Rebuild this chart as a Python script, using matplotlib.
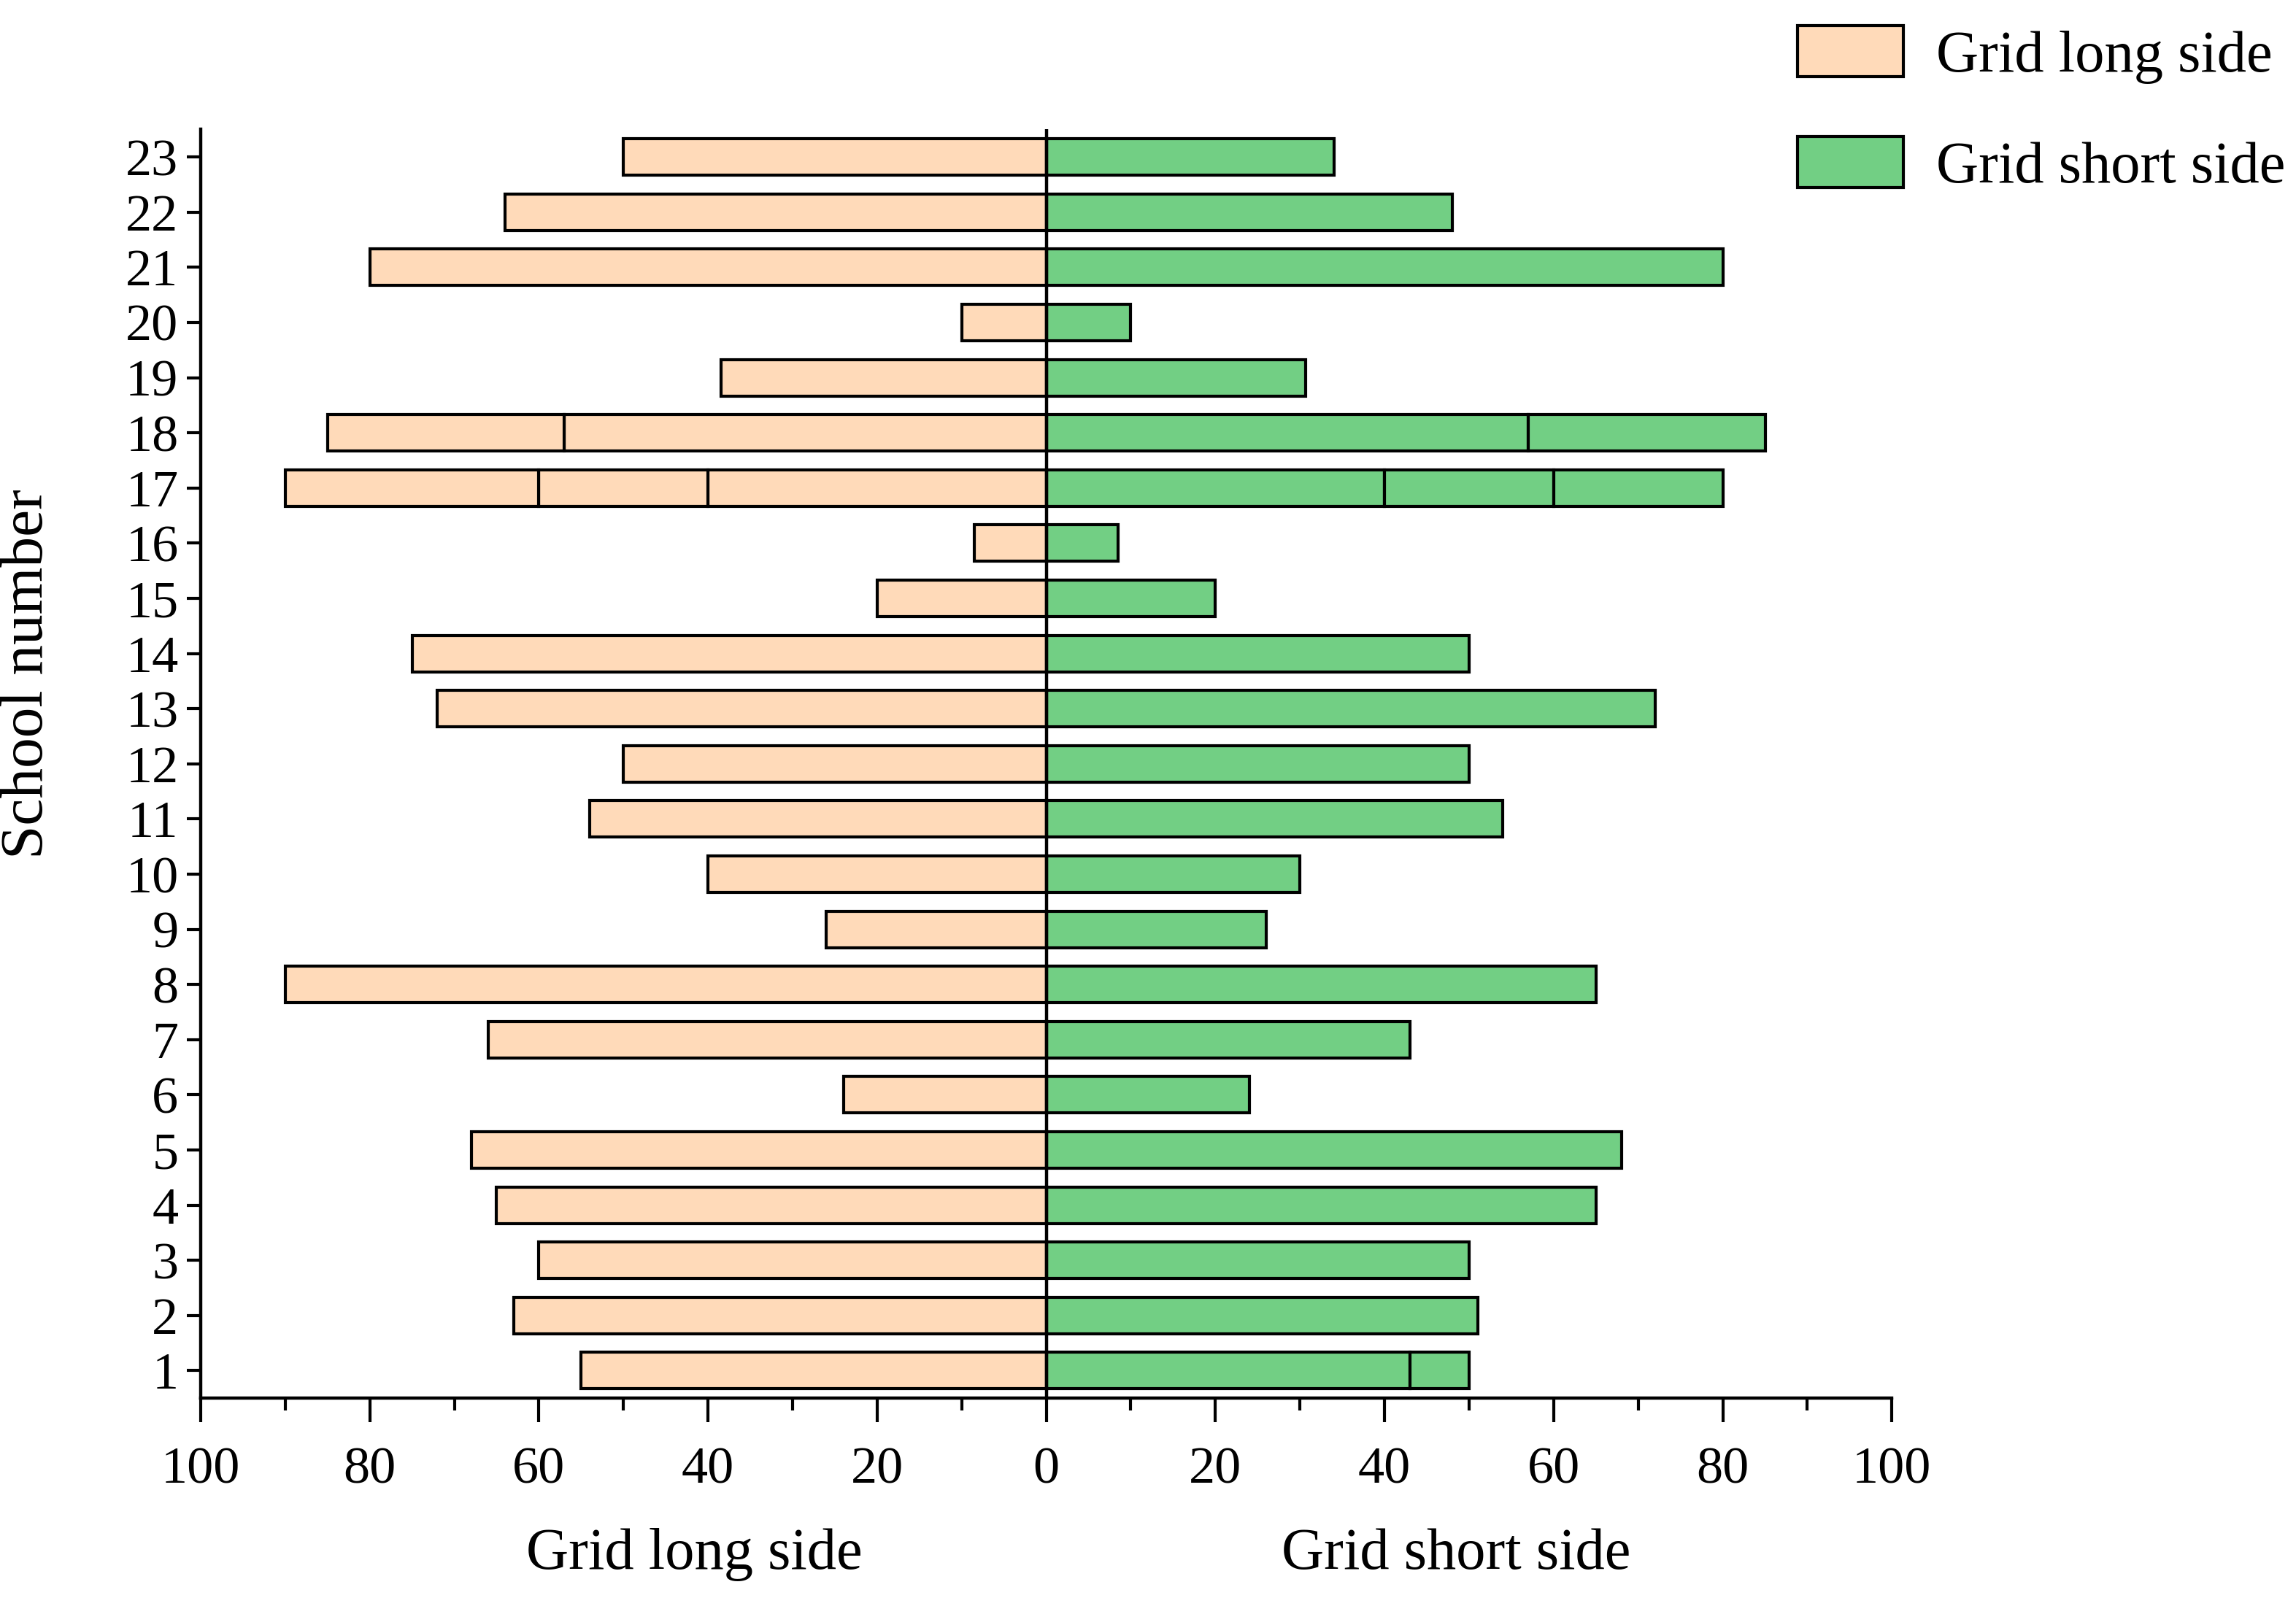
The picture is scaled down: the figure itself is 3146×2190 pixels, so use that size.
import numpy as np
import matplotlib.pyplot as plt
from matplotlib.patches import Patch

# dati (scuole 1..23)
schools = list(range(1, 24))
# lato lungo: segmenti dal centro verso l'esterno
long_seg1 = [55, 63, 60, 65, 68, 24, 66, 90, 26, 40, 54, 50, 72, 75, 20, 8.5, 40, 57, 38.5, 10, 80, 64, 50]
long_seg2 = [0, 0, 0, 0, 0, 0, 0, 0, 0, 0, 0, 0, 0, 0, 0, 0, 20, 28, 0, 0, 0, 0, 0]
long_seg3 = [0, 0, 0, 0, 0, 0, 0, 0, 0, 0, 0, 0, 0, 0, 0, 0, 30, 0, 0, 0, 0, 0, 0]
# lato corto
short_seg1 = [43, 51, 50, 65, 68, 24, 43, 65, 26, 30, 54, 50, 72, 50, 20, 8.5, 40, 57, 30.7, 10, 80, 48, 34]
short_seg2 = [7, 0, 0, 0, 0, 0, 0, 0, 0, 0, 0, 0, 0, 0, 0, 0, 20, 28, 0, 0, 0, 0, 0]
short_seg3 = [0, 0, 0, 0, 0, 0, 0, 0, 0, 0, 0, 0, 0, 0, 0, 0, 20, 0, 0, 0, 0, 0, 0]

col_long = '#FFDAB9'
col_short = '#72CF84'

plt.rcParams['font.family'] = ['Liberation Serif', 'DejaVu Serif']

fig = plt.figure(figsize=(15.73, 10.95), dpi=200)
ax = fig.add_axes([0.0874, 0.125, 0.7366, 0.794])

y = np.array(schools)
h = 0.66
lw = 1.5

# disegno dei segmenti impilati
def draw_side(segs, sign, color):
    start = np.zeros(len(y))
    for seg in segs:
        seg = np.array(seg, dtype=float)
        m = seg > 0
        ax.barh(y[m], sign * seg[m], left=sign * start[m], height=h,
                color=color, edgecolor='black', linewidth=lw, zorder=2)
        start = start + seg

draw_side([long_seg1, long_seg2, long_seg3], -1, col_long)
draw_side([short_seg1, short_seg2, short_seg3], 1, col_short)

ax.axvline(0, color='black', linewidth=1.6, zorder=3)

ax.set_xlim(-100, 100)
ax.set_ylim(0.5, 23.5)
ax.set_xticks(np.arange(-100, 101, 20))
ax.set_xticklabels([str(abs(v)) for v in range(-100, 101, 20)])
ax.set_xticks(np.arange(-90, 100, 20), minor=True)
ax.set_yticks(y)
ax.set_yticklabels([str(s) for s in schools])

for s in ['top', 'right']:
    ax.spines[s].set_visible(False)
for s in ['left', 'bottom']:
    ax.spines[s].set_linewidth(1.6)

ax.tick_params(axis='x', which='major', direction='out', length=12, width=1.5, labelsize=26, pad=12)
ax.tick_params(axis='x', which='minor', direction='out', length=6, width=1.5)
ax.tick_params(axis='y', which='major', direction='out', length=7, width=1.5, labelsize=26, pad=4)

ax.set_ylabel('School number', fontsize=30)
ax.yaxis.set_label_coords(-0.086, 0.571)
ax.text(-41.6, -1.85, 'Grid long side', fontsize=29, ha='center', va='top')
ax.text(48.5, -1.85, 'Grid short side', fontsize=29, ha='center', va='top')

handles = [Patch(facecolor=col_long, edgecolor='black', linewidth=lw, label='Grid long side'),
           Patch(facecolor=col_short, edgecolor='black', linewidth=lw, label='Grid short side')]
fig.legend(handles=handles, loc='upper left', bbox_to_anchor=(0.76, 1.017),
           frameon=False, fontsize=29, handlelength=1.8, handleheight=0.95,
           handletextpad=0.55, labelspacing=0.9)

fig.savefig('out.png', dpi=200)
